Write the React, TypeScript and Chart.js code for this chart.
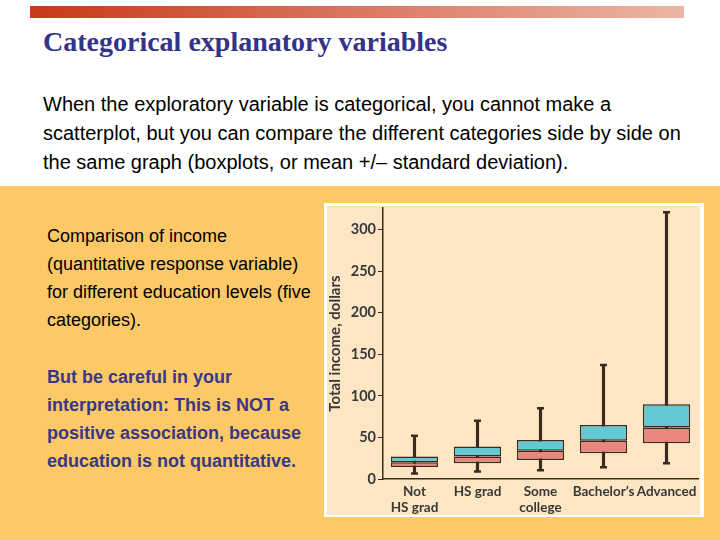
import React, { useEffect, useRef } from "react";
import { Chart, registerables } from "chart.js";

Chart.register(...registerables);

const categories: (string | string[])[] = [["Not", "HS grad"], "HS grad", ["Some", "college"], "Bachelor’s", "Advanced"];
const whiskerMin = [6.5, 9, 10.5, 14, 19];
const quartile1 = [14.5, 19, 23, 31, 43];
const medians = [20, 27, 34, 46, 62];
const quartile3 = [27, 39, 47, 65, 90];
const whiskerMax = [52, 70, 85, 137, 321];
const yTicks = [0, 50, 100, 150, 200, 250, 300];

const DARK = "#3b2a1e";
const TEXT = "#383838";

function BoxChart() {
  const ref = useRef<HTMLCanvasElement | null>(null);
  useEffect(() => {
    if (!ref.current) return;
    const yFont = { family: "Lato", weight: "bold" as const, size: 14.5, lineHeight: 1.15 };
    const xFont = { family: "Lato", weight: "bold" as const, size: 13.5, lineHeight: 1.18 };
    const titleFont = { family: "Lato", weight: "bold" as const, size: 15, lineHeight: 1.15 };
    const chart = new Chart(ref.current, {
      type: "bar",
      data: {
        labels: categories as any,
        datasets: [
          {
            type: "bar",
            data: whiskerMin.map((v, i) => [v, whiskerMax[i]]) as any,
            backgroundColor: DARK,
            barThickness: 2.5,
            grouped: false,
            order: 3,
          } as any,
          {
            type: "bar",
            data: quartile1.map((v, i) => [v, medians[i]]) as any,
            backgroundColor: "#ea877d",
            borderColor: DARK,
            borderWidth: 1.5,
            borderSkipped: false,
            barPercentage: 0.75,
            categoryPercentage: 1,
            grouped: false,
            order: 2,
          } as any,
          {
            type: "bar",
            data: medians.map((v, i) => [v, quartile3[i]]) as any,
            backgroundColor: "#64c8d4",
            borderColor: DARK,
            borderWidth: 1.5,
            borderSkipped: false,
            barPercentage: 0.75,
            categoryPercentage: 1,
            grouped: false,
            order: 2,
          } as any,
          {
            type: "line",
            data: whiskerMin,
            showLine: false,
            pointStyle: "line",
            pointRadius: 3.5,
            pointBorderWidth: 2.5,
            borderColor: DARK,
            pointBorderColor: DARK,
            order: 1,
          } as any,
          {
            type: "line",
            data: whiskerMax,
            showLine: false,
            pointStyle: "line",
            pointRadius: 3.5,
            pointBorderWidth: 2.5,
            borderColor: DARK,
            pointBorderColor: DARK,
            order: 1,
          } as any,
        ],
      },
      options: {
        animation: false,
        responsive: false,
        maintainAspectRatio: false,
        layout: { autoPadding: false, padding: { top: 2, right: 2, left: 0, bottom: 0 } },
        plugins: { legend: { display: false }, tooltip: { enabled: false } },
        scales: {
          x: {
            type: "category",
            offset: true,
            grid: { display: false, drawTicks: false },
            border: { display: true, color: DARK, width: 1.5 },
            ticks: { color: TEXT, font: xFont, padding: 5, maxRotation: 0, autoSkip: false },
            afterFit: (s: any) => {
              s.height = 36;
              s.paddingLeft = 0;
              s.paddingRight = 0;
            },
          },
          y: {
            min: 0,
            max: 326,
            grid: { display: true, drawOnChartArea: false, drawTicks: true, tickLength: 5, color: DARK, lineWidth: 1 },
            border: { display: true, color: DARK, width: 1.5 },
            ticks: { color: TEXT, font: yFont, padding: 2, stepSize: 50 },
            afterBuildTicks: (s: any) => {
              s.ticks = yTicks.map((v) => ({ value: v }));
            },
            title: {
              display: true,
              text: "Total income, dollars",
              color: TEXT,
              font: titleFont,
              padding: { top: 0, bottom: 0 },
            },
            afterFit: (s: any) => {
              s.width = 56;
              s.paddingTop = 0;
              s.paddingBottom = 0;
            },
          },
        },
      },
    });
    return () => chart.destroy();
  }, []);
  return <canvas ref={ref} width={373} height={309} style={{ display: "block", width: 373, height: 309 }} />;
}

export default function App() {
  const sans = "'Liberation Sans', Arial, sans-serif";
  return (
    <div
      style={{
        position: "fixed",
        left: 0,
        top: 0,
        width: 720,
        height: 540,
        background: "#ffffff",
        overflow: "hidden",
      }}
    >
      <div
        style={{
          position: "absolute",
          left: 30,
          top: 6,
          width: 654,
          height: 12,
          background: "linear-gradient(to right, #c63a17, #d8705a 45%, #ebb6a4)",
        }}
      />
      <div
        style={{
          position: "absolute",
          left: 43,
          top: 26,
          fontFamily: "'Liberation Serif', 'Times New Roman', serif",
          fontWeight: "bold",
          fontSize: 28,
          lineHeight: "32px",
          color: "#333387",
          whiteSpace: "nowrap",
        }}
      >
        Categorical explanatory variables
      </div>
      <div
        style={{
          position: "absolute",
          left: 43,
          top: 89.5,
          fontFamily: sans,
          fontSize: 20,
          lineHeight: "29px",
          color: "#000",
          whiteSpace: "nowrap",
        }}
      >
        When the exploratory variable is categorical, you cannot make a
        <br />
        scatterplot, but you can compare the different categories side by side on
        <br />
        the same graph (boxplots, or mean +/– standard deviation).
      </div>
      <div
        style={{
          position: "absolute",
          left: 0,
          top: 186,
          width: 720,
          height: 354,
          background: "#fdc967",
        }}
      />
      <div
        style={{
          position: "absolute",
          left: 47,
          top: 222,
          fontFamily: sans,
          fontSize: 18,
          lineHeight: "28px",
          color: "#000",
          whiteSpace: "nowrap",
        }}
      >
        Comparison of income
        <br />
        (quantitative response variable)
        <br />
        for different education levels (five
        <br />
        categories).
      </div>
      <div
        style={{
          position: "absolute",
          left: 47,
          top: 363,
          fontFamily: sans,
          fontSize: 18,
          fontWeight: "bold",
          lineHeight: "28px",
          color: "#383886",
          whiteSpace: "nowrap",
        }}
      >
        But be careful in your
        <br />
        interpretation: This is NOT a
        <br />
        positive association, because
        <br />
        education is not quantitative.
      </div>
      <div
        style={{
          position: "absolute",
          left: 324,
          top: 203,
          width: 380,
          height: 314,
          background: "#ffffff",
        }}
      />
      <div
        style={{
          position: "absolute",
          left: 327,
          top: 206,
          width: 373,
          height: 309,
          background: "#fde6c4",
        }}
      >
        <BoxChart />
      </div>
    </div>
  );
}
